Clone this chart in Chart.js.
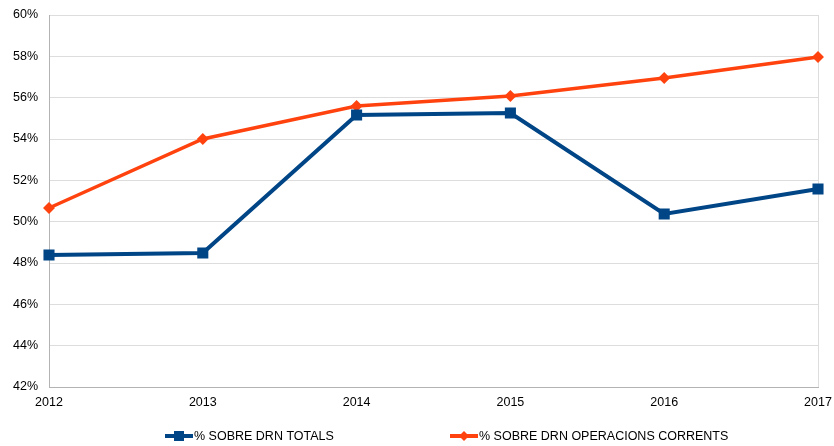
<!DOCTYPE html>
<html>
<head>
<meta charset="utf-8">
<script src="https://cdn.jsdelivr.net/npm/chart.js@4.4.0/dist/chart.umd.min.js"></script>
<style>
  html, body { margin: 0; padding: 0; background: #fff; }
  #wrap { width: 834px; height: 446px; }
</style>
</head>
<body>
<div id="wrap"><canvas id="myChart"></canvas></div>
<script>
const years = ['2012', '2013', '2014', '2015', '2016', '2017'];
const totals = [48.39, 48.48, 55.16, 55.26, 50.37, 51.58];
const corrents = [50.66, 54.0, 55.6, 56.08, 56.95, 57.97];
const seriesNames = ['% SOBRE DRN TOTALS', '% SOBRE DRN OPERACIONS CORRENTS'];

const blue = '#004586';
const orange = '#ff420e';

// legend drawn by hand so the items sit where the original has them
const legendSpots = [165, 450];
const bottomLegend = {
  id: 'bottomLegend',
  afterDraw(chart) {
    const g = chart.ctx;
    const y = 436;
    g.save();
    chart.data.datasets.forEach((ds, i) => {
      const x = legendSpots[i];
      g.strokeStyle = ds.borderColor;
      g.fillStyle = ds.borderColor;
      g.lineWidth = 4;
      g.beginPath();
      g.moveTo(x, y); g.lineTo(x + 28, y);
      g.stroke();
      if (ds.pointStyle == 'rect') {
        g.fillRect(x + 9, y - 5, 10, 10);
      } else {
        g.beginPath();
        g.moveTo(x + 14, y - 5); g.lineTo(x + 19, y); g.lineTo(x + 14, y + 5); g.lineTo(x + 9, y);
        g.closePath();
        g.fill();
      }
      g.fillStyle = '#000';
      g.font = '12.5px "Liberation Sans"';
      g.textBaseline = 'middle';
      g.textAlign = 'left';
      g.fillText(ds.label, x + 29, y + 1);
    });
    g.restore();
  }
};

const ctx = document.getElementById('myChart');

new Chart(ctx, {
  type: 'line',
  data: {
    labels: years,
    datasets: [{
      label: seriesNames[0],
      data: totals,
      borderColor: blue,
      backgroundColor: blue,
      borderWidth: 4,
      pointStyle: 'rect',
      pointRadius: 5,
      pointHoverRadius: 5,
      tension: 0
    }, {
      label: seriesNames[1],
      data: corrents,
      borderColor: orange,
      backgroundColor: orange,
      borderWidth: 3.5,
      pointStyle: 'rectRot',
      pointRadius: 3.5,
      pointHoverRadius: 3.5,
      tension: 0
    }]
  },
  plugins: [bottomLegend],
  options: {
    responsive: true,
    maintainAspectRatio: false,
    animation: false,
    layout: { padding: { left: 0, right: 16, top: 15, bottom: 28 } },
    plugins: {
      tooltip: { enabled: false },
      legend: { display: false }
    },
    scales: {
      x: {
        offset: false,
        afterFit: s => { s.paddingRight = 0; s.paddingLeft = 0; },
        grid: {
          drawTicks: false,
          color: c => c.index === years.length - 1 ? '#dddddd' : 'rgba(0,0,0,0)'
        },
        border: { color: '#b3b3b3' },
        ticks: {
          color: '#000',
          padding: 8,
          maxRotation: 0,
          font: { family: 'Liberation Sans', size: 12.5 }
        }
      },
      y: {
        min: 42,
        max: 60,
        afterFit: s => { s.width = 49; s.paddingTop = 0; s.paddingBottom = 0; },
        grid: { color: '#dddddd', drawTicks: false },
        border: { color: '#b3b3b3' },
        ticks: {
          stepSize: 2,
          color: '#000',
          padding: 11,
          font: { family: 'Liberation Sans', size: 12.5 },
          callback: v => v + '%'
        }
      }
    }
  }
});
</script>
</body>
</html>
